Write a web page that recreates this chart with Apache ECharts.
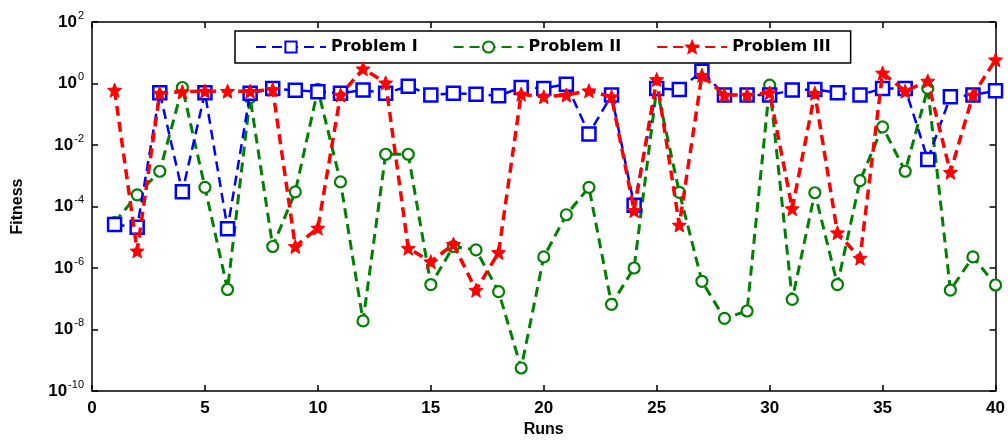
<!DOCTYPE html>
<html><head><meta charset="utf-8">
<script src="https://cdn.jsdelivr.net/npm/echarts@6/dist/echarts.min.js"></script>
<style>html,body{margin:0;padding:0;background:#fff}#c{width:1008px;height:443px}</style>
</head><body><div id="c"></div>
<script>
var runs = [1,2,3,4,5,6,7,8,9,10,11,12,13,14,15,16,17,18,19,20,21,22,23,24,25,26,27,28,29,30,31,32,33,34,35,36,37,38,39,40];
var problemI = [2.6e-5,2.1e-5,0.5,3e-4,0.5,1.9e-5,0.48,0.69,0.6,0.54,0.48,0.61,0.48,0.82,0.42,0.48,0.45,0.4,0.74,0.69,0.95,0.023,0.42,1.1e-4,0.69,0.64,2.5,0.42,0.42,0.42,0.61,0.64,0.5,0.42,0.69,0.69,0.0034,0.37,0.42,0.58];
var problemII = [3e-5,2.4e-4,1.4e-3,0.74,4.2e-4,2e-7,0.35,5e-6,3e-4,0.64,6.3e-4,1.9e-8,5e-3,5e-3,2.9e-7,5e-6,3.9e-6,1.7e-7,5.6e-10,2.3e-6,5.4e-5,4.2e-4,6.6e-8,1e-6,0.7,2.9e-4,3.7e-7,2.3e-8,4e-8,0.89,9.5e-8,2.8e-4,2.9e-7,6.9e-4,0.039,1.4e-3,0.69,1.9e-7,2.3e-6,2.8e-7];
var problemIII = [0.61,3.6e-6,0.48,0.54,0.56,0.56,0.56,0.64,5e-6,2e-5,0.42,3,1.05,4.4e-6,1.6e-6,5.9e-6,1.9e-7,3.2e-6,0.45,0.37,0.42,0.58,0.37,7.4e-5,1.35,2.5e-5,1.85,0.42,0.42,0.5,8.5e-5,0.48,1.4e-5,2.1e-6,2.2,0.56,1.2,1.3e-3,0.42,5.9];
var seriesNames = ['Problem I','Problem II','Problem III'];

function pairs(arr){ return arr.map(function(v,i){ return [runs[i], v]; }); }
var chart = echarts.init(document.getElementById('c'), null, {renderer:'canvas'});
var font = 'Liberation Sans, Arial, sans-serif';
var wide = 'DejaVu Sans, Verdana, sans-serif';
var dash = [10,6];
chart.setOption({
  animation:false,
  backgroundColor:'#fff',
  grid:{left:92,right:11,top:22,bottom:45,show:false},
  legend:{
    top:31,left:235,height:20,
    itemGap:35,itemWidth:70,itemHeight:14,
    padding:[8,20,8,20],
    borderColor:'#000',borderWidth:1.5,backgroundColor:'#fff',
    textStyle:{fontFamily:wide,fontWeight:'bold',fontSize:16,color:'#000'},
    data:seriesNames
  },
  xAxis:[{
    type:'value',min:0,max:40,interval:5,position:'bottom',
    axisLine:{show:true,onZero:false,lineStyle:{color:'#000',width:1.5}},
    axisTick:{show:true,inside:true,length:6,lineStyle:{color:'#000',width:1.5}},
    splitLine:{show:false},
    axisLabel:{fontFamily:font,fontWeight:'bold',fontSize:17,color:'#000',margin:9},
    name:'Runs',nameLocation:'middle',nameGap:31,
    nameTextStyle:{fontFamily:font,fontWeight:'bold',fontSize:16,color:'#000'}
  },{
    type:'value',min:0,max:40,interval:5,position:'top',
    axisLine:{show:true,onZero:false,lineStyle:{color:'#000',width:1.5}},
    axisTick:{show:true,inside:true,length:6,lineStyle:{color:'#000',width:1.5}},
    splitLine:{show:false},axisLabel:{show:false}
  }],
  yAxis:[{
    type:'log',logBase:10,min:1e-10,max:1e2,interval:2,position:'left',
    axisLine:{show:true,onZero:false,lineStyle:{color:'#000',width:1.5}},
    axisTick:{show:true,inside:true,length:6,lineStyle:{color:'#000',width:1.5}},
    minorTick:{show:false},splitLine:{show:false},
    axisLabel:{
      margin:8,
      formatter:function(v){ var e=Math.round(Math.log10(v)); return '{b|10}{s|'+e+'}'; },
      rich:{
        b:{fontFamily:font,fontWeight:'bold',fontSize:17,color:'#000'},
        s:{fontFamily:font,fontSize:11,color:'#000',verticalAlign:'top',padding:[0,0,13,1]}
      }
    },
    name:'Fitness',nameLocation:'middle',nameGap:66,nameRotate:90,
    nameTextStyle:{fontFamily:font,fontWeight:'bold',fontSize:16,color:'#000'}
  },{
    type:'log',logBase:10,min:1e-10,max:1e2,interval:2,position:'right',
    axisLine:{show:true,onZero:false,lineStyle:{color:'#000',width:1.5}},
    axisTick:{show:true,inside:true,length:6,lineStyle:{color:'#000',width:1.5}},
    splitLine:{show:false},axisLabel:{show:false}
  }],
  series:[{
    name:seriesNames[0],type:'line',data:pairs(problemI),
    symbol:'rect',symbolSize:13,
    itemStyle:{color:'#fff',borderColor:'#0000ff',borderWidth:2.5},
    lineStyle:{color:'#0000ff',width:2.5,type:dash},
    z:3
  },{
    name:seriesNames[1],type:'line',data:pairs(problemII),
    symbol:'circle',symbolSize:11,
    itemStyle:{color:'#fff',borderColor:'#008000',borderWidth:2.2},
    lineStyle:{color:'#008000',width:3,type:dash},
    z:2
  },{
    name:seriesNames[2],type:'line',data:pairs(problemIII),
    symbol:'path://M0,-10 L2.6,-3.6 L9.5,-3.1 L4.2,1.4 L5.9,8.1 L0,4.4 L-5.9,8.1 L-4.2,1.4 L-9.5,-3.1 L-2.6,-3.6 Z',
    symbolSize:14,
    itemStyle:{color:'#ff0000',borderColor:'#ff0000',borderWidth:1},
    lineStyle:{color:'#ff0000',width:3.5,type:dash},
    z:4
  }]
});
</script></body></html>
